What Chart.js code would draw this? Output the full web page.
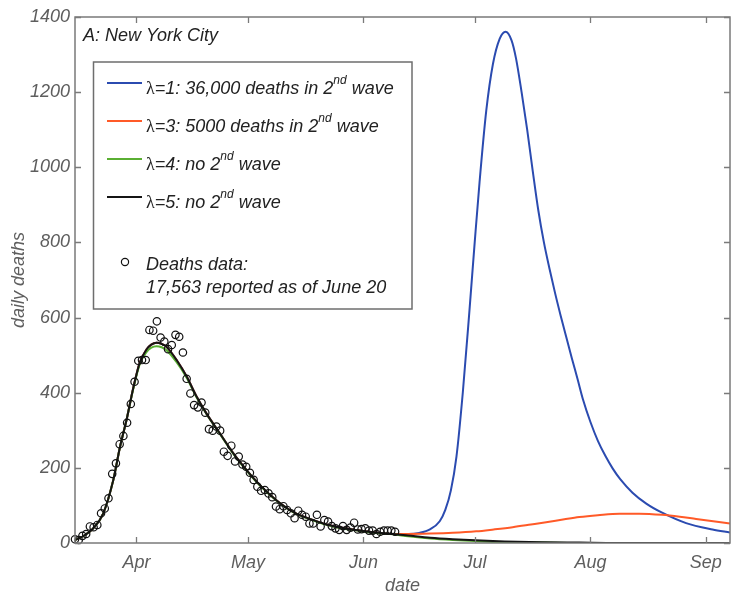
<!DOCTYPE html>
<html>
<head>
<meta charset="utf-8">
<script src="https://cdn.jsdelivr.net/npm/chart.js@4.4.1/dist/chart.umd.min.js"></script>
<style>
  html, body { margin: 0; padding: 0; background: #fff; }
</style>
</head>
<body>
<canvas id="grafico" width="731" height="593"></canvas>
<script>
// eixo x em dias contados a partir de 1 de março de 2020
const tickDays = [31, 61, 92, 122, 153, 184];
const tickLabels = ['Apr', 'May', 'Jun', 'Jul', 'Aug', 'Sep'];

// mortes diarias reportadas (circulos), um valor por dia
const deathsStart = 14.5;
const deathsData = [
  10, 8, 19, 24, 44, 42, 48, 79, 92, 119,
  184, 212, 263, 285, 320, 370, 429, 485, 487, 487,
  567, 565, 590, 547, 536, 516, 527, 554, 549, 507,
  437, 398, 367, 361, 374, 347, 303, 299, 310, 299,
  243, 232, 259, 217, 230, 209, 203, 187, 168, 150,
  139, 141, 132, 122, 97, 90, 98, 88, 79, 66,
  86, 75, 70, 52, 52, 75, 44, 61, 57, 45,
  39, 35, 45, 35, 41, 54, 36, 37, 39, 33,
  33, 24, 30, 33, 33, 33, 30
];

// primeira onda do modelo (igual para todos os lambdas)
const waveDays = [14.5, 17, 19.4, 22.1, 24.8, 26.6, 28.4, 30.1, 31.9, 33.7, 35, 36.4, 37.8, 39.1, 41.8,
  44.5, 47.2, 49.8, 53.4, 57, 60.6, 64.2, 68.6, 73.1, 78.5, 83.8, 91, 96, 100];
const waveVals = [8, 20, 39, 79, 168, 256, 330, 410, 480, 515, 528, 533, 530, 522, 487,
  443, 389, 345, 292, 239, 194, 154, 114, 83, 61, 45, 33, 27, 24];
const waveValsGreen = [8, 20, 39, 79, 168, 256, 330, 408, 476, 508, 520, 524, 521, 513, 481,
  440, 387, 344, 291, 238, 193, 153, 113, 82, 60, 44, 32, 26, 23];

// segunda onda por lambda
const blueDays = [104, 107, 110, 112.5, 114, 115.5, 117, 118.7, 120.5, 121.9, 123.2, 125, 126.8, 128.6, 130.2,
  131.8, 133, 134.5, 136, 137.5, 139, 140.5, 142, 143.5, 145, 146.5, 148, 149.5, 151, 153, 155,
  157, 159, 161, 164.3, 168, 172.4, 178.7, 185.8, 190.5];
const blueVals = [24, 27, 37, 58, 88, 140, 230, 400, 620, 800, 960, 1150, 1275, 1342, 1361,
  1338, 1290, 1200, 1100, 990, 885, 800, 730, 665, 605, 548, 492, 438, 382, 322, 272,
  232, 198, 170, 134, 105, 80, 53, 36, 28];

const redDays = [104, 110, 116, 122.3, 127, 132.1, 137, 141.1, 146, 150, 155, 160.8, 166.1, 172.3, 177, 181.4, 186, 190.5];
const redVals = [24, 25, 27, 31, 36, 42, 49, 55, 63, 69, 74, 78, 78, 75, 70, 64, 58, 52];

const greenDays = [104, 110, 116, 122, 130, 140, 150, 190.5];
const greenVals = [18, 12, 8, 5, 2, 1, 0, 0];

const blackDays = [104, 110, 116, 122, 130, 140, 150, 160, 190.5];
const blackVals = [20, 14, 10, 7, 4, 2, 1, 0, 0];

const legendRows = [
  { color: '#2b4bb0', text: ['=1: 36,000 deaths in 2', 'nd', ' wave'] },
  { color: '#ff5a28', text: ['=3: 5000 deaths in 2', 'nd', ' wave'] },
  { color: '#5aaf32', text: ['=4: no 2', 'nd', ' wave'] },
  { color: '#151515', text: ['=5: no 2', 'nd', ' wave'] }
];

const FONTE = '"Liberation Sans", Arial, sans-serif';
const CINZA = '#5e5e5e';

function pontos(days, vals) {
  return days.map((d, i) => ({ x: d, y: vals[i] }));
}

function curva(label, cor, days, vals, ordem) {
  return {
    label: label,
    data: pontos(days, vals),
    showLine: true,
    borderColor: cor,
    borderWidth: 2,
    pointRadius: 0,
    cubicInterpolationMode: 'monotone',
    order: ordem
  };
}

const deathPoints = deathsData.map((v, i) => ({ x: deathsStart + i, y: v }));

// moldura estilo matlab com ticks para dentro
const molduraPlugin = {
  id: 'moldura',
  afterDatasetsDraw(chart) {
    const { ctx, chartArea: a, scales } = chart;
    ctx.save();
    ctx.strokeStyle = '#7a7a7a';
    ctx.lineWidth = 1.5;
    ctx.strokeRect(a.left, a.top, a.right - a.left, a.bottom - a.top);
    ctx.lineWidth = 1.3;
    ctx.beginPath();
    scales.x.ticks.forEach(t => {
      const px = Math.round(scales.x.getPixelForValue(t.value)) + 0.5;
      ctx.moveTo(px, a.bottom); ctx.lineTo(px, a.bottom - 6);
      ctx.moveTo(px, a.top); ctx.lineTo(px, a.top + 6);
    });
    scales.y.ticks.forEach(t => {
      const py = Math.round(scales.y.getPixelForValue(t.value)) + 0.5;
      ctx.moveTo(a.left, py); ctx.lineTo(a.left + 6, py);
      ctx.moveTo(a.right, py); ctx.lineTo(a.right - 6, py);
    });
    ctx.stroke();
    ctx.restore();
  }
};

// legenda desenhada a mao (precisa de sobrescrito)
const legendaPlugin = {
  id: 'legenda',
  afterDraw(chart) {
    const ctx = chart.ctx;
    ctx.save();
    ctx.fillStyle = '#222';
    ctx.textBaseline = 'alphabetic';
    ctx.textAlign = 'left';
    ctx.font = 'italic 18px ' + FONTE;
    ctx.fillText('A: New York City', 83, 40.5);

    const bx = 93.5, by = 62, bw = 318.5, bh = 247;
    ctx.fillStyle = '#fff';
    ctx.fillRect(bx, by, bw, bh);
    ctx.strokeStyle = '#6e6e6e';
    ctx.lineWidth = 1.5;
    ctx.strokeRect(bx, by, bw, bh);

    legendRows.forEach((row, i) => {
      const base = 93.5 + i * 38;
      ctx.strokeStyle = row.color;
      ctx.lineWidth = 2;
      ctx.beginPath();
      ctx.moveTo(107, base - 10.5);
      ctx.lineTo(142, base - 10.5);
      ctx.stroke();

      let x = 146;
      ctx.fillStyle = '#222';
      ctx.font = '18px "Liberation Serif", serif';
      ctx.fillText('\u03bb', x, base);
      x += ctx.measureText('\u03bb').width;
      ctx.font = 'italic 18px ' + FONTE;
      ctx.fillText(row.text[0], x, base);
      x += ctx.measureText(row.text[0]).width;
      ctx.font = 'italic 12px ' + FONTE;
      ctx.fillText(row.text[1], x, base - 10);
      x += ctx.measureText(row.text[1]).width;
      ctx.font = 'italic 18px ' + FONTE;
      ctx.fillText(row.text[2], x, base);
    });

    ctx.strokeStyle = '#111';
    ctx.lineWidth = 1.2;
    ctx.beginPath();
    ctx.arc(125, 262, 3.6, 0, Math.PI * 2);
    ctx.stroke();
    ctx.fillStyle = '#222';
    ctx.font = 'italic 18px ' + FONTE;
    ctx.fillText('Deaths data:', 146, 269.5);
    ctx.fillText('17,563 reported as of June 20', 146, 293);
    ctx.restore();
  }
};

new Chart(document.getElementById('grafico'), {
  type: 'scatter',
  data: {
    datasets: [
      {
        label: 'Deaths data',
        data: deathPoints,
        pointRadius: 3.7,
        pointBorderWidth: 1.2,
        borderColor: '#111',
        backgroundColor: 'rgba(0,0,0,0)',
        clip: false,
        order: 0
      },
      curva('lambda 5', '#151515', waveDays.concat(blackDays), waveVals.concat(blackVals), 1),
      curva('lambda 4', '#5aaf32', waveDays.concat(greenDays), waveValsGreen.concat(greenVals), 2),
      curva('lambda 3', '#ff5a28', waveDays.concat(redDays), waveVals.concat(redVals), 3),
      curva('lambda 1', '#2b4bb0', waveDays.concat(blueDays), waveVals.concat(blueVals), 4)
    ]
  },
  options: {
    responsive: false,
    animation: false,
    events: [],
    layout: { autoPadding: false, padding: { top: 17, right: 1, left: 0, bottom: 0 } },
    plugins: {
      legend: { display: false },
      tooltip: { enabled: false }
    },
    scales: {
      x: {
        type: 'linear',
        min: 14.5,
        max: 190.5,
        afterBuildTicks: scale => { scale.ticks = tickDays.map(d => ({ value: d })); },
        afterFit: scale => {
          scale.height = 50;
          scale.paddingLeft = 0;
          scale.paddingRight = 0;
        },
        grid: { display: false, drawTicks: false },
        border: { display: false },
        ticks: {
          padding: 9,
          color: CINZA,
          font: { family: FONTE, size: 18, style: 'italic' },
          callback: value => tickLabels[tickDays.indexOf(value)]
        },
        title: {
          display: true,
          text: 'date',
          color: CINZA,
          padding: { top: 0, bottom: 0 },
          font: { family: FONTE, size: 18, style: 'italic', lineHeight: 0.8 }
        }
      },
      y: {
        min: 0,
        max: 1400,
        afterFit: scale => {
          scale.width = 75;
          scale.paddingTop = 0;
          scale.paddingBottom = 0;
        },
        grid: { display: false, drawTicks: false },
        border: { display: false },
        ticks: {
          stepSize: 200,
          padding: 5,
          color: CINZA,
          font: { family: FONTE, size: 18, style: 'italic' },
          callback: value => String(value)
        },
        title: {
          display: true,
          text: 'daily deaths',
          color: CINZA,
          padding: { top: 12, bottom: 0 },
          font: { family: FONTE, size: 18, style: 'italic', lineHeight: 0.8 }
        }
      }
    }
  },
  plugins: [molduraPlugin, legendaPlugin]
});
</script>
</body>
</html>
